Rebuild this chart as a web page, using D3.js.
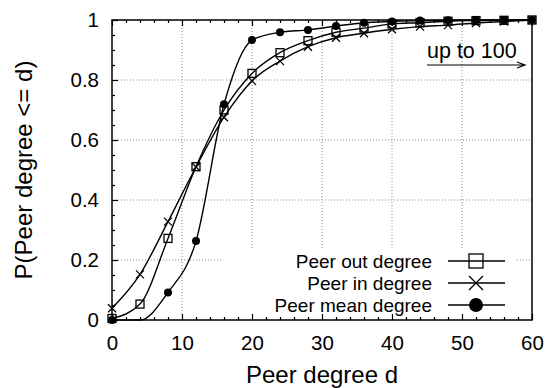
<!DOCTYPE html>
<html>
<head>
<meta charset="utf-8">
<script src="https://cdn.jsdelivr.net/npm/d3@7"></script>
<style>
  body { margin: 0; background: #fff; }
  text { font-family: "Liberation Sans", Arial, sans-serif; fill: #000; }
</style>
</head>
<body>
<div id="chart"></div>
<script>
const degrees = [0, 4, 8, 12, 16, 20, 24, 28, 32, 36, 40, 44, 48, 52, 56, 60];
const outDegree = [0.005, 0.053, 0.272, 0.511, 0.700, 0.822, 0.891, 0.931, 0.959, 0.973, 0.987, 0.991, 0.996, 0.998, 0.999, 1.0];
const inDegree = [0.039, 0.152, 0.328, 0.510, 0.676, 0.797, 0.863, 0.911, 0.941, 0.956, 0.969, 0.978, 0.983, 0.990, 0.995, 1.0];
const meanDegree = [0.0, 0.0, 0.092, 0.263, 0.719, 0.933, 0.959, 0.967, 0.980, 0.991, 0.995, 0.998, 0.999, 1.0, 1.0, 1.0];
const seriesNames = ["Peer out degree", "Peer in degree", "Peer mean degree"];
const xTicks = [0, 10, 20, 30, 40, 50, 60];
const yTicks = [0, 0.2, 0.4, 0.6, 0.8, 1];

const width = 547;
const height = 388;
const margin = { top: 20, right: 15, bottom: 68, left: 112 };

const svg = d3.select("#chart").append("svg")
  .attr("width", width)
  .attr("height", height);

const x = d3.scaleLinear().domain([0, 60]).range([margin.left, width - margin.right]);
const y = d3.scaleLinear().domain([0, 1]).range([height - margin.bottom, margin.top]);

// grid
const grid = svg.append("g")
  .attr("stroke", "#888")
  .attr("stroke-width", 1)
  .attr("stroke-dasharray", "1,2");
grid.selectAll("line.gx")
  .data(xTicks.slice(1, -1))
  .enter().append("line")
  .attr("x1", d => x(d)).attr("x2", d => x(d))
  .attr("y1", y(0)).attr("y2", y(1));
grid.selectAll("line.gy")
  .data(yTicks.slice(1, -1))
  .enter().append("line")
  .attr("x1", x(0)).attr("x2", x(60))
  .attr("y1", d => y(d)).attr("y2", d => y(d));

// opaque key area
svg.append("rect")
  .attr("x", 222).attr("y", 248)
  .attr("width", 295).attr("height", y(0) - 248)
  .attr("fill", "#fff");

const series = [outDegree, inDegree, meanDegree].map((vals, i) => ({
  name: seriesNames[i],
  points: degrees.map((d, j) => [d, vals[j]])
}));

const line = d3.line()
  .x(d => x(d[0]))
  .y(d => y(d[1]))
  .curve(d3.curveMonotoneX);

svg.append("g").selectAll("path")
  .data(series)
  .enter().append("path")
  .attr("d", d => line(d.points))
  .attr("fill", "none")
  .attr("stroke", "#000")
  .attr("stroke-width", 1.4);

function drawMarker(g, type, cx, cy, s) {
  if (type === 0) {
    g.append("rect")
      .attr("x", cx - s / 2).attr("y", cy - s / 2)
      .attr("width", s).attr("height", s)
      .attr("fill", "none").attr("stroke", "#000").attr("stroke-width", 1.3);
  } else if (type === 1) {
    g.append("path")
      .attr("d", `M${cx - s / 2},${cy - s / 2}L${cx + s / 2},${cy + s / 2}M${cx - s / 2},${cy + s / 2}L${cx + s / 2},${cy - s / 2}`)
      .attr("stroke", "#000").attr("stroke-width", 1.3);
  } else {
    g.append("circle")
      .attr("cx", cx).attr("cy", cy).attr("r", s / 2)
      .attr("fill", "#000");
  }
}

const markers = svg.append("g");
series.forEach((s, i) => {
  s.points.forEach(p => {
    if (i === 2 && p[0] === 4) return;
    drawMarker(markers, i, x(p[0]), y(p[1]), 8);
  });
});

// axes with inward ticks
const xMinor = d3.range(0, 61, 2).filter(d => d % 10 !== 0);
const yMinor = d3.range(0, 1.0001, 0.05).filter(d => Math.round(d * 100) % 20 !== 0);

svg.append("g")
  .attr("transform", `translate(0,${y(0)})`)
  .call(d3.axisBottom(x).tickValues(xTicks).tickSize(-6).tickPadding(15.5).tickSizeOuter(0));
svg.append("g")
  .attr("transform", `translate(0,${y(0)})`)
  .call(d3.axisBottom(x).tickValues(xMinor).tickSize(-3).tickFormat("").tickSizeOuter(0));
svg.append("g")
  .attr("transform", `translate(0,${y(1)})`)
  .call(d3.axisTop(x).tickValues(xTicks).tickSize(-6).tickFormat("").tickSizeOuter(0));
svg.append("g")
  .attr("transform", `translate(0,${y(1)})`)
  .call(d3.axisTop(x).tickValues(xMinor).tickSize(-3).tickFormat("").tickSizeOuter(0));

svg.append("g")
  .attr("transform", `translate(${x(0)},0)`)
  .call(d3.axisLeft(y).tickValues(yTicks).tickSize(-6).tickPadding(13).tickSizeOuter(0)
    .tickFormat(d => d === 0 || d === 1 ? d3.format("d")(d) : d3.format(".1f")(d)));
svg.append("g")
  .attr("transform", `translate(${x(0)},0)`)
  .call(d3.axisLeft(y).tickValues(yMinor).tickSize(-3).tickFormat("").tickSizeOuter(0));

svg.selectAll(".domain").remove();
svg.selectAll(".tick line").attr("stroke", "#000").attr("stroke-width", 1.2);
svg.selectAll(".tick text").style("font-size", "20.5px");

// border
svg.append("rect")
  .attr("x", x(0)).attr("y", y(1))
  .attr("width", x(60) - x(0)).attr("height", y(0) - y(1))
  .attr("fill", "none").attr("stroke", "#000").attr("stroke-width", 1.5);

// axis labels
svg.append("text")
  .attr("x", (x(0) + x(60)) / 2).attr("y", 383)
  .attr("text-anchor", "middle")
  .style("font-size", "24px")
  .text("Peer degree d");

svg.append("text")
  .attr("transform", `translate(32,${(y(0) + y(1)) / 2}) rotate(-90)`)
  .attr("text-anchor", "middle")
  .style("font-size", "24px")
  .text("P(Peer degree <= d)");

// up to 100 annotation
svg.append("text")
  .attr("x", 427).attr("y", 58)
  .style("font-size", "21.5px")
  .text("up to 100");
svg.append("path")
  .attr("d", "M427,65L525,65M517,62L525,65L517,68")
  .attr("fill", "none").attr("stroke", "#000").attr("stroke-width", 1.2);

// legend
const legend = svg.append("g");
series.forEach((s, i) => {
  const cy = 261 + i * 22;
  legend.append("text")
    .attr("x", 432).attr("y", cy + 6.5)
    .attr("text-anchor", "end")
    .style("font-size", "19px")
    .text(s.name);
  legend.append("line")
    .attr("x1", 448).attr("x2", 505)
    .attr("y1", cy).attr("y2", cy)
    .attr("stroke", "#000").attr("stroke-width", 1.4);
  drawMarker(legend, i, 476, cy, 14);
});
</script>
</body>
</html>
